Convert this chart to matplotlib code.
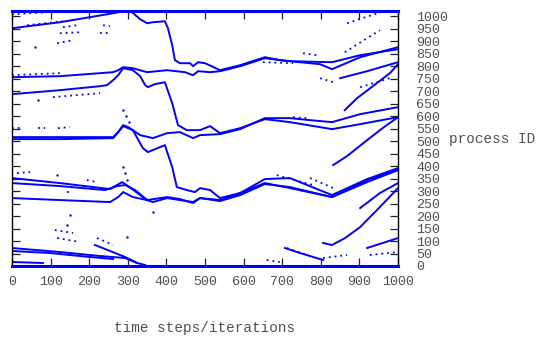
import matplotlib
matplotlib.use('Agg')
import matplotlib.pyplot as plt

BLUE = '#0000ff'
TXT = '#505050'

x_ticks = list(range(0, 1001, 100))
y_ticks = list(range(0, 1001, 50))

# ---- main trajectories (process id vs time step) ----
c1_x = [0, 124, 262, 288, 311, 332, 350, 365, 396, 404, 415, 422, 435, 461, 469, 482, 500, 539, 591, 655, 694, 746, 798, 829, 902, 1000]
c1_y = [952, 976, 1012, 1020, 1016, 988, 972, 976, 980, 952, 884, 824, 812, 812, 800, 816, 812, 784, 804, 836, 824, 816, 808, 788, 836, 876]

c2_x = [0, 124, 262, 275, 288, 313, 350, 402, 448, 469, 482, 513, 539, 591, 655, 720, 829, 902, 1000]
c2_y = [756, 760, 776, 784, 796, 792, 776, 784, 776, 764, 780, 776, 780, 800, 832, 820, 816, 844, 868]

c3_x = [0, 124, 228, 246, 262, 275, 288, 313, 332, 345, 352, 370, 396, 415, 430, 453, 487, 513, 539, 591, 655, 720, 829, 902, 1000]
c3_y = [688, 704, 720, 724, 744, 764, 792, 784, 760, 724, 716, 728, 736, 652, 564, 544, 544, 560, 532, 552, 588, 576, 548, 568, 596]

c6_x = [0, 124, 262, 275, 288, 301, 313, 332, 365, 402, 435, 469, 487, 539, 591, 655, 720, 772, 829, 902, 1000]
c6_y = [516, 516, 516, 536, 564, 556, 544, 524, 512, 532, 536, 512, 524, 528, 548, 592, 592, 584, 576, 608, 636]

c5_x = [0, 124, 262, 275, 288, 313, 339, 352, 396, 415, 427, 453, 474, 487, 513, 539, 591, 655, 720, 829, 920, 1000]
c5_y = [508, 508, 512, 536, 560, 544, 472, 456, 484, 396, 316, 304, 296, 312, 304, 272, 292, 332, 312, 276, 344, 384]

c8_x = [0, 124, 254, 272, 285, 301, 332, 350, 365, 402, 435, 469, 487, 539, 591, 655, 720, 829, 920, 1000]
c8_y = [352, 332, 308, 324, 336, 320, 284, 264, 256, 272, 264, 256, 272, 264, 292, 348, 352, 284, 348, 392]

c9_x = [0, 124, 241, 272, 293, 319, 350]
c9_y = [332, 320, 304, 320, 324, 304, 264]

c7_x = [0, 124, 254, 275, 288, 313, 350, 402, 435, 469, 487, 539, 591, 655, 720, 829, 920, 1000]
c7_y = [272, 264, 256, 276, 296, 276, 264, 276, 268, 252, 272, 260, 284, 328, 316, 276, 336, 384]

c10_x = [0, 124, 228, 293, 324, 345]
c10_y = [72, 56, 40, 32, 12, 4]
c11_x = [0, 98, 202, 262]
c11_y = [60, 52, 36, 28]
c12_x = [0, 80]
c12_y = [16, 12]
c13_x = [215, 293, 324]
c13_y = [84, 36, 12]
c14_x = [806, 829, 863, 902, 953, 1000]
c14_y = [92, 84, 112, 156, 236, 312]
c15_x = [707, 746, 806]
c15_y = [72, 52, 24]
c16_x = [920, 1000]
c16_y = [72, 112]
c18_x = [832, 868, 920, 960, 1000]
c18_y = [404, 440, 504, 552, 596]
c19_x = [902, 953, 1000]
c19_y = [232, 292, 332]
l1_x = [850, 920, 1000]
l1_y = [752, 780, 816]
l2_x = [862, 894, 979, 1000]
l2_y = [624, 672, 772, 808]

border_x = [0, 1000]
top_id = [1023, 1023]
bottom_id = [0, 0]

# ---- short dotted fragments ----
frag_x = [[0, 91], [39, 132], [117, 158], [228, 254], [236, 254], [132, 168], [124, 176],
          [0, 124], [106, 228], [0, 21], [67, 85], [119, 150], [13, 47], [194, 220],
          [111, 158], [117, 176], [220, 262], [142, 155], [686, 780], [650, 728],
          [728, 764], [754, 790], [798, 832], [712, 764], [806, 868], [660, 694],
          [927, 1000], [902, 987], [862, 953], [868, 971], [772, 832]]
frag_y = [[1008, 1016], [964, 980], [892, 904], [932, 932], [964, 960], [956, 964], [932, 936],
          [764, 772], [676, 692], [552, 552], [552, 552], [552, 556], [372, 376], [344, 336],
          [144, 132], [112, 96], [112, 84], [296, 296], [364, 324], [816, 812],
          [596, 592], [852, 844], [752, 736], [72, 44], [32, 44], [24, 16],
          [44, 56], [716, 756], [856, 944], [972, 1024], [352, 312]]

dots_x = [60, 67, 117, 142, 150, 298, 365, 288, 295, 303, 288, 293, 298]
dots_y = [876, 664, 364, 164, 204, 116, 216, 624, 600, 576, 396, 372, 344]

curves = [(c1_x, c1_y), (c2_x, c2_y), (c3_x, c3_y), (c6_x, c6_y), (c5_x, c5_y),
          (c8_x, c8_y), (c9_x, c9_y), (c7_x, c7_y), (c10_x, c10_y), (c11_x, c11_y),
          (c12_x, c12_y), (c13_x, c13_y), (c14_x, c14_y), (c15_x, c15_y),
          (c16_x, c16_y), (c18_x, c18_y), (c19_x, c19_y), (l1_x, l1_y), (l2_x, l2_y)]

plt.rcParams['font.family'] = ['Liberation Mono', 'DejaVu Sans Mono']

fig = plt.figure(figsize=(5.41, 3.38), dpi=100)
ax = fig.add_axes([12 / 541, 72 / 338, 386 / 541, 255.5 / 338])

for xs, ys in curves:
    ax.plot(xs, ys, color=BLUE, lw=1.4, solid_joinstyle='round')
for xs, ys in zip(frag_x, frag_y):
    ax.plot(xs, ys, color=BLUE, lw=1.3, linestyle=(0, (1, 2.2)))
ax.scatter(dots_x, dots_y, s=3, color=BLUE, lw=0)
ax.plot(border_x, top_id, color=BLUE, lw=2.2, clip_on=False, zorder=5)
ax.plot(border_x, bottom_id, color=BLUE, lw=2.2, clip_on=False, zorder=5)

ax.set_xlim(0, 1000)
ax.set_ylim(0, 1023)
ax.set_xticks(x_ticks)
ax.set_yticks(y_ticks)
ax.yaxis.tick_right()
ax.tick_params(direction='in', length=5.5, width=0.9, color='#222222',
               left=True, right=True, top=True, bottom=True,
               labelleft=False, labelright=True, labelsize=9.6, labelcolor=TXT)
ax.tick_params(axis='y', pad=13)
ax.tick_params(axis='x', pad=7)
for lab in ax.get_yticklabels():
    lab.set_horizontalalignment('left')
for s in ax.spines.values():
    s.set_color('#000000')
    s.set_linewidth(1.0)

fig.text(449 / 541, 1 - 139 / 338, 'process ID', fontsize=10.4, color=TXT, ha='left', va='center')
fig.text(205 / 541, 1 - 328 / 338, 'time steps/iterations', fontsize=10.4, color=TXT, ha='center', va='center')

fig.savefig('out.png', dpi=100)
